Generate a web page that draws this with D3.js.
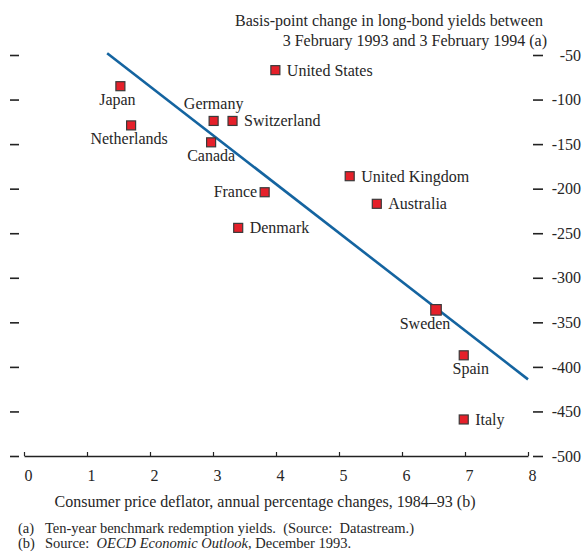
<!DOCTYPE html>
<html>
<head>
<meta charset="utf-8">
<script src="https://cdn.jsdelivr.net/npm/d3@7"></script>
<style>
  html, body { margin: 0; padding: 0; background: #fff; }
  svg { display: block; font-family: "Liberation Serif", "Times New Roman", serif; }
</style>
</head>
<body>
<svg id="chart" width="583" height="553"></svg>
<script>
// Consumer price inflation 1984–93 (%) against change in ten-year bond yields (basis points)
const countries = ["United States", "Japan", "Germany", "Switzerland", "Netherlands", "Canada",
                   "France", "United Kingdom", "Australia", "Denmark", "Sweden", "Spain", "Italy"];
const inflation = [3.99, 1.53, 3.01, 3.31, 1.70, 2.97, 3.82, 5.17, 5.60, 3.40, 6.54, 6.98, 6.98];
const yieldChange = [-67, -85, -124, -124, -129, -148, -204, -186, -217, -244, -336, -387, -459];

// Fitted line end points
const fitX = [1.32, 8];
const fitY = [-48, -414];

const xTicks = [0, 1, 2, 3, 4, 5, 6, 7, 8];
const yTicks = [-50, -100, -150, -200, -250, -300, -350, -400, -450, -500];

const titleLines = ["Basis-point change in long-bond yields between",
                    "3 February 1993 and 3 February 1994 (a)"];
const xTitle = "Consumer price deflator, annual percentage changes, 1984\u201393 (b)";

// Where each country's name sits relative to its marker
const labelSide = {
  "United States": "right", "Japan": "below", "Germany": "above", "Switzerland": "right",
  "Netherlands": "below", "Canada": "below", "France": "left", "United Kingdom": "right",
  "Australia": "right", "Denmark": "right", "Sweden": "below", "Spain": "below", "Italy": "right"
};
const labelNudge = { "Sweden": -11, "Spain": 7, "Japan": -3, "Netherlands": -2 };

const textColor = "#262626";
const fontSize = 16;

const svg = d3.select("#chart");
const x = d3.scaleLinear().domain([0, 8]).range([24, 528]);
const y = d3.scaleLinear().domain([-500, -50]).range([456, 55]);

// Title, top right
svg.append("g").selectAll("text").data(titleLines).join("text")
  .attr("x", (d, i) => i === 0 ? 543 : 547)
  .attr("y", (d, i) => 26 + i * 20)
  .attr("text-anchor", "end")
  .attr("font-size", fontSize)
  .attr("fill", textColor)
  .text(d => d);

// Right-hand value axis: short dashes with labels
const yAxisR = svg.append("g")
  .attr("transform", "translate(533,0)")
  .call(d3.axisRight(y).tickValues(yTicks).tickSize(10).tickSizeOuter(0).tickFormat(d => String(d)));
yAxisR.select(".domain").remove();
yAxisR.selectAll(".tick line").attr("stroke", "#222").attr("stroke-width", 1.6);
yAxisR.selectAll(".tick text")
  .attr("x", 48).attr("text-anchor", "end")
  .attr("font-family", "Liberation Serif, serif").attr("font-size", fontSize).attr("fill", textColor);

// Left-hand dashes at the same values
const yAxisL = svg.append("g")
  .attr("transform", "translate(19,0)")
  .call(d3.axisLeft(y).tickValues(yTicks).tickSize(9).tickSizeOuter(0).tickFormat(""));
yAxisL.select(".domain").remove();
yAxisL.selectAll(".tick line").attr("stroke", "#222").attr("stroke-width", 1.6);

// Horizontal axis with ticks pointing up into the plot
const xAxis = svg.append("g")
  .attr("transform", "translate(0,456)")
  .call(d3.axisBottom(x).tickValues(xTicks).tickSizeInner(-4).tickSizeOuter(0).tickPadding(14));
xAxis.select(".domain").attr("stroke", "#222").attr("stroke-width", 1.3);
xAxis.selectAll(".tick line").attr("stroke", "#222").attr("stroke-width", 1.2);
xAxis.selectAll(".tick text")
  .attr("dx", 4)
  .attr("font-family", "Liberation Serif, serif").attr("font-size", fontSize).attr("fill", textColor);

svg.append("text")
  .attr("x", 265).attr("y", 507)
  .attr("text-anchor", "middle")
  .attr("font-size", fontSize).attr("fill", textColor)
  .text(xTitle);

// Fitted line
svg.append("path")
  .datum(fitX.map((v, i) => [v, fitY[i]]))
  .attr("d", d3.line().x(d => x(d[0])).y(d => y(d[1])))
  .attr("fill", "none")
  .attr("stroke", "#1464a0")
  .attr("stroke-width", 2.6);

// Country markers and names
const points = countries.map((c, i) => ({ name: c, cpi: inflation[i], bp: yieldChange[i] }));
const pts = svg.append("g").selectAll("g").data(points).join("g")
  .attr("transform", d => `translate(${x(d.cpi)},${y(d.bp)})`);

pts.append("rect")
  .each(function (d) {
    const s = d.name === "Sweden" ? 10.5 : 9;
    d3.select(this).attr("x", -s / 2).attr("y", -s / 2).attr("width", s).attr("height", s);
  })
  .attr("fill", "#e5202a")
  .attr("stroke", "#3a3a3a")
  .attr("stroke-width", 1.2);

pts.append("text")
  .attr("font-size", fontSize)
  .attr("fill", textColor)
  .each(function (d) {
    const side = labelSide[d.name];
    const t = d3.select(this);
    const nudge = labelNudge[d.name] || 0;
    if (side === "right") t.attr("x", 11.5).attr("y", 5.5).attr("text-anchor", "start");
    else if (side === "left") t.attr("x", -7.5).attr("y", 4.5).attr("text-anchor", "end");
    else if (side === "above") t.attr("x", nudge).attr("y", -12).attr("text-anchor", "middle");
    else t.attr("x", nudge).attr("y", 19).attr("text-anchor", "middle");
  })
  .text(d => d.name);

// Footnotes
const foot = svg.append("g").attr("font-size", 14.5).attr("fill", textColor);
foot.append("text").attr("x", 18).attr("y", 533).text("(a)");
foot.append("text").attr("x", 45).attr("y", 533).attr("xml:space", "preserve")
  .text("Ten-year benchmark redemption yields.  (Source:  Datastream.)");
foot.append("text").attr("x", 18).attr("y", 548).text("(b)");
const fb = foot.append("text").attr("x", 45).attr("y", 548).attr("xml:space", "preserve");
fb.append("tspan").text("Source:  ");
fb.append("tspan").attr("font-style", "italic").text("OECD Economic Outlook");
fb.append("tspan").text(", December 1993.");
</script>
</body>
</html>
